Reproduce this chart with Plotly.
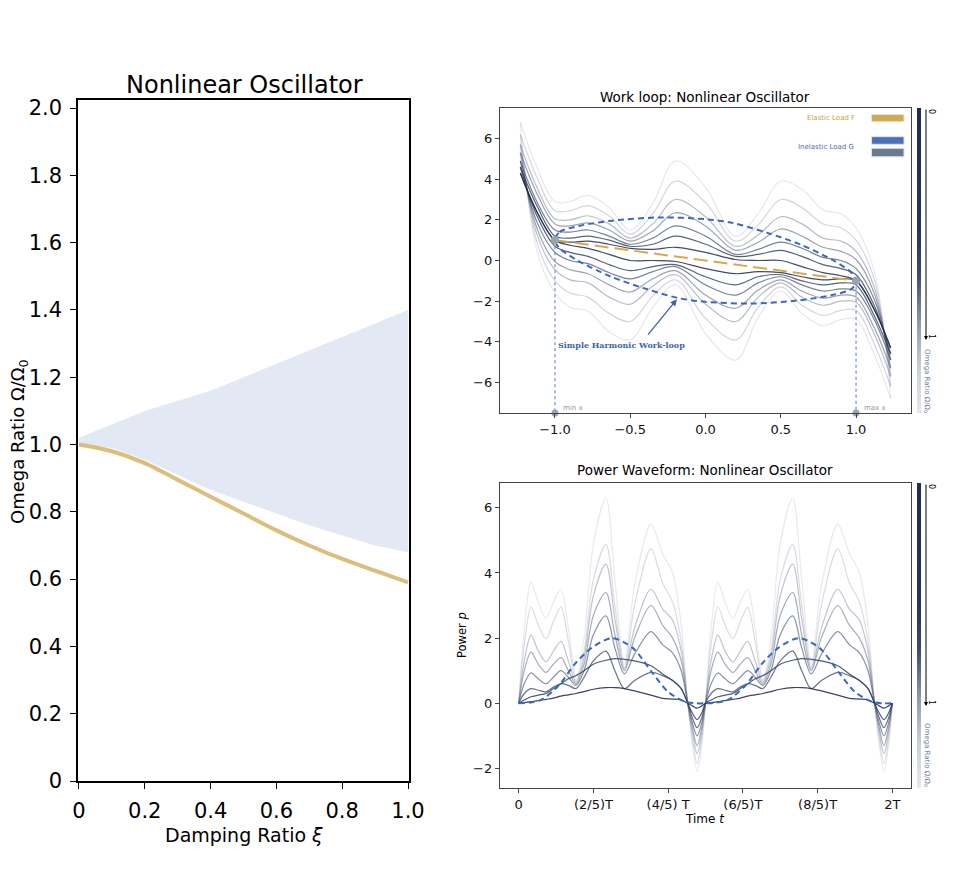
import plotly.graph_objects as go

# ---------------- left panel: stability region ----------------
XI = [0.0, 0.1, 0.2, 0.3, 0.4, 0.5, 0.6, 0.7, 0.8, 0.9, 1.0]
WEDGE_UP = [1.02, 1.06, 1.10, 1.13, 1.16, 1.20, 1.24, 1.28, 1.32, 1.36, 1.40]
WEDGE_LOW = [1.0, 0.99, 0.955, 0.91, 0.865, 0.83, 0.795, 0.76, 0.73, 0.70, 0.68]
GOLD_CURVE = [1.0, 0.98, 0.945, 0.895, 0.845, 0.795, 0.745, 0.70, 0.66, 0.625, 0.59]

# ---------------- work loop ----------------
XW = [-1.23, -1.12, -1.0, -0.9, -0.78, -0.64, -0.5, -0.35, -0.2, 0.0,
      0.2, 0.35, 0.5, 0.64, 0.78, 0.9, 1.0, 1.12, 1.23]
UPPER = [
    [4.3, 2.4, 1.0, 0.9, 0.95, 0.8, 0.6, 0.55, 0.65, 0.4, 0.05, 0.0, 0.0, -0.3, -0.6, -0.75, -1.0, -2.4, -4.3],
    [4.6, 2.7, 1.2, 1.1, 1.2, 1.0, 0.7, 0.8, 1.2, 0.8, 0.2, 0.3, 0.5, 0.2, -0.2, -0.4, -0.7, -2.2, -4.6],
    [4.9, 2.9, 1.5, 1.4, 1.5, 1.2, 0.8, 1.1, 1.7, 1.2, 0.3, 0.55, 0.9, 0.6, 0.15, 0.0, -0.4, -1.9, -4.9],
    [5.3, 3.3, 1.8, 1.7, 1.85, 1.5, 0.95, 1.45, 2.35, 1.7, 0.5, 0.9, 1.55, 1.2, 0.65, 0.45, 0.05, -1.6, -5.3],
    [5.7, 3.6, 2.05, 2.0, 2.2, 1.8, 1.1, 1.8, 3.0, 2.15, 0.7, 1.25, 2.15, 1.8, 1.1, 0.95, 0.45, -1.3, -5.7],
    [6.2, 4.1, 2.45, 2.45, 2.7, 2.2, 1.3, 2.3, 3.9, 2.85, 0.95, 1.75, 3.0, 2.6, 1.8, 1.6, 1.0, -0.9, -6.2],
    [6.8, 4.6, 2.9, 2.9, 3.2, 2.6, 1.5, 2.8, 4.9, 3.6, 1.2, 2.3, 3.9, 3.5, 2.5, 2.3, 1.6, -0.5, -6.8],
]
LOWER = [
    [4.3, 2.4, 1.0, 0.75, 0.6, 0.3, 0.0, 0.0, -0.05, -0.4, -0.65, -0.55, -0.6, -0.8, -0.95, -0.9, -1.0, -2.4, -4.3],
    [4.6, 2.2, 0.7, 0.4, 0.2, -0.2, -0.5, -0.3, -0.2, -0.8, -1.2, -0.8, -0.7, -1.0, -1.2, -1.1, -1.2, -2.7, -4.6],
    [4.9, 1.9, 0.4, 0.0, -0.15, -0.6, -0.9, -0.55, -0.3, -1.2, -1.7, -1.1, -0.8, -1.2, -1.5, -1.4, -1.5, -2.9, -4.9],
    [5.3, 1.6, -0.05, -0.45, -0.65, -1.2, -1.55, -0.9, -0.5, -1.7, -2.35, -1.45, -0.95, -1.5, -1.85, -1.7, -1.8, -3.3, -5.3],
    [5.7, 1.3, -0.45, -0.95, -1.1, -1.8, -2.15, -1.25, -0.7, -2.15, -3.0, -1.8, -1.1, -1.8, -2.2, -2.0, -2.05, -3.6, -5.7],
    [6.2, 0.9, -1.0, -1.6, -1.8, -2.6, -3.0, -1.75, -0.95, -2.85, -3.9, -2.3, -1.3, -2.2, -2.7, -2.45, -2.45, -4.1, -6.2],
    [6.8, 0.5, -1.6, -2.3, -2.5, -3.5, -3.9, -2.3, -1.2, -3.6, -4.9, -2.8, -1.5, -2.6, -3.2, -2.9, -2.9, -4.6, -6.8],
]
WL_COLORS = ["rgba(30,45,75,0.85)", "rgba(45,60,90,0.8)", "rgba(65,80,105,0.7)",
             "rgba(90,100,125,0.6)", "rgba(115,124,145,0.5)", "rgba(145,152,170,0.4)",
             "rgba(180,185,198,0.32)"]

# simple harmonic loop (upper arc left->right, lower arc right->left)
SH_X = [-1.0, -0.97, -0.84, -0.62, -0.29, 0.0, 0.18, 0.41, 0.63, 0.85, 0.97, 1.0,
        0.97, 0.84, 0.62, 0.29, 0.0, -0.18, -0.41, -0.63, -0.85, -0.97, -1.0]
SH_Y = [1.0, 1.4, 1.7, 1.96, 2.12, 2.03, 1.85, 1.36, 0.79, 0.0, -0.6, -1.0,
        -1.4, -1.7, -1.96, -2.12, -2.03, -1.85, -1.36, -0.79, 0.0, 0.6, 1.0]
ELASTIC_X = [-1.0, 1.0]
ELASTIC_Y = [1.0, -1.0]

# ---------------- power waveform (one period, repeats) ----------------
T_ONE = [0, 0.03, 0.066, 0.105, 0.146, 0.186, 0.226, 0.266, 0.307, 0.35, 0.4, 0.467,
         0.515, 0.566, 0.62, 0.708, 0.77, 0.824, 0.87, 0.905, 0.93, 0.955, 0.98, 1.0]
POWER = [
    [0, 0.02, 0.05, 0.08, 0.12, 0.16, 0.22, 0.26, 0.3, 0.36, 0.43, 0.48, 0.48, 0.45, 0.38, 0.25, 0.15, 0.13, 0.1, 0.0, -0.08, -0.15, -0.08, 0],
    [0, 0.1, 0.2, 0.25, 0.3, 0.45, 0.6, 0.75, 0.85, 1.0, 1.2, 1.32, 1.37, 1.35, 1.3, 1.15, 0.9, 0.7, 0.45, 0.0, -0.3, -0.5, -0.3, 0],
    [0, 0.3, 0.45, 0.4, 0.35, 0.5, 0.6, 0.55, 0.45, 0.8, 1.3, 1.6, 1.0, 0.45, 0.7, 0.95, 0.85, 0.7, 0.45, 0.0, -0.45, -0.75, -0.45, 0],
    [0, 0.6, 0.93, 0.75, 0.6, 0.8, 1.0, 0.8, 0.55, 1.0, 2.1, 2.68, 1.7, 0.9, 1.5, 2.2, 1.8, 1.55, 1.0, 0.0, -0.6, -1.0, -0.6, 0],
    [0, 1.0, 1.57, 1.2, 0.95, 1.2, 1.4, 1.0, 0.6, 1.2, 2.7, 3.4, 2.1, 1.0, 2.0, 3.0, 2.4, 2.0, 1.3, 0.0, -0.75, -1.3, -0.75, 0],
    [0, 1.3, 2.09, 1.6, 1.27, 1.6, 1.9, 1.3, 0.65, 1.4, 3.3, 4.27, 2.6, 1.05, 2.3, 3.5, 2.9, 2.55, 1.6, 0.0, -0.9, -1.55, -0.9, 0],
    [0, 1.8, 2.95, 2.4, 1.98, 2.5, 2.95, 1.9, 0.7, 1.6, 3.8, 4.87, 3.0, 1.1, 3.0, 4.74, 3.7, 3.1, 1.9, 0.0, -1.1, -1.85, -1.1, 0],
    [0, 2.3, 3.72, 3.1, 2.6, 3.1, 3.5, 2.3, 0.8, 2.0, 4.9, 6.3, 3.8, 1.2, 3.6, 5.5, 4.6, 4.0, 2.4, 0.0, -1.3, -2.1, -1.3, 0],
]
P_COLORS = ["rgba(35,50,80,0.9)", "rgba(50,65,95,0.85)", "rgba(65,80,108,0.8)",
            "rgba(85,98,125,0.7)", "rgba(105,117,140,0.6)", "rgba(130,140,160,0.5)",
            "rgba(160,168,185,0.4)", "rgba(190,196,208,0.35)"]
SH_T = [0, 0.06, 0.125, 0.215, 0.3, 0.39, 0.5, 0.61, 0.72, 0.8, 0.89, 0.95, 1.0]
SH_P = [0, 0.02, 0.12, 0.55, 1.2, 1.7, 2.0, 1.7, 0.9, 0.35, 0.05, 0, 0]

CB_SCALE = [[0, "#e6e8ee"], [0.15, "#c9ced8"], [0.3, "#8e97a8"],
            [0.45, "#3b4c6c"], [0.6, "#24375a"], [1, "#1d2f50"]]

FONT = "DejaVu Sans"
BLUE = "#3b67bd"
W, H, OFF = 964, 877, 8   # the page puts the figure 8px in from the top-left corner


def px(x):
    return (x - OFF) / W


def py(y):
    return 1 - (y - OFF) / H


fig = go.Figure()

# left panel
fig.add_trace(go.Scatter(x=XI + XI[::-1], y=WEDGE_UP + WEDGE_LOW[::-1], fill="toself",
                         fillcolor="#e3e9f4", line=dict(width=0), mode="lines",
                         xaxis="x", yaxis="y", hoverinfo="skip"))
fig.add_trace(go.Scatter(x=XI, y=GOLD_CURVE, mode="lines", line=dict(color="#dcbe7c", width=4, shape="spline"),
                         xaxis="x", yaxis="y"))

# work loop curves, lightest first
for k in range(len(UPPER) - 1, -1, -1):
    for ys in (UPPER[k], LOWER[k]):
        fig.add_trace(go.Scatter(x=XW, y=ys, mode="lines", xaxis="x2", yaxis="y2",
                                 line=dict(color=WL_COLORS[k], width=1.2, shape="spline", smoothing=1.0)))

fig.add_trace(go.Scatter(x=[-1, -1], y=[1, -7.5], mode="lines", xaxis="x2", yaxis="y2",
                         line=dict(color="#6f8fcc", width=1.2, dash="dot")))
fig.add_trace(go.Scatter(x=[1, 1], y=[-1, -7.5], mode="lines", xaxis="x2", yaxis="y2",
                         line=dict(color="#6f8fcc", width=1.2, dash="dot")))
fig.add_trace(go.Scatter(x=ELASTIC_X, y=ELASTIC_Y, mode="lines", xaxis="x2", yaxis="y2",
                         line=dict(color="#d6aa4c", width=2, dash="14px,6px")))
fig.add_trace(go.Scatter(x=SH_X, y=SH_Y, mode="lines", xaxis="x2", yaxis="y2",
                         line=dict(color=BLUE, width=2, dash="6px,4px", shape="spline", smoothing=0.8)))
fig.add_trace(go.Scatter(x=ELASTIC_X, y=ELASTIC_Y, mode="markers", xaxis="x2", yaxis="y2",
                         marker=dict(color="#9ba3b0", size=8)))
fig.add_trace(go.Scatter(x=[-1, 1], y=[-7.5, -7.5], mode="markers", xaxis="x2", yaxis="y2",
                         cliponaxis=False, marker=dict(color="#9aa3b5", size=7)))

# power waveform curves
t_full = T_ONE + [t + 1 for t in T_ONE[1:]]
for k in range(len(POWER) - 1, -1, -1):
    fig.add_trace(go.Scatter(x=t_full, y=POWER[k] + POWER[k][1:], mode="lines", xaxis="x3", yaxis="y3",
                             line=dict(color=P_COLORS[k], width=1.2, shape="spline", smoothing=0.9)))
fig.add_trace(go.Scatter(x=SH_T + [t + 1 for t in SH_T[1:]], y=SH_P + SH_P[1:], mode="lines",
                         xaxis="x3", yaxis="y3",
                         line=dict(color=BLUE, width=2, dash="6px,4px", shape="spline", smoothing=0.8)))

# colour strips next to the right panels
for yc, xa, ya in ((py(260.5), "x2", "y2"), (py(635.5), "x3", "y3")):
    fig.add_trace(go.Scatter(x=[None], y=[None], mode="markers", xaxis=xa, yaxis=ya, hoverinfo="skip",
                             marker=dict(color=[0.5], cmin=0, cmax=1, colorscale=CB_SCALE, showscale=True,
                                         colorbar=dict(thickness=4, len=305 / H, x=px(917), xanchor="left",
                                                       xpad=0, ypad=0, y=yc, yanchor="middle",
                                                       outlinewidth=0, showticklabels=False, ticks=""))))

left_ax = dict(showline=True, linecolor="black", linewidth=1.5, mirror=True, ticks="outside",
               ticklen=6, tickwidth=1.3, tickcolor="black", showgrid=False, zeroline=False,
               ticklabelstandoff=4, tickfont=dict(family=FONT, size=21, color="black"))
right_ax = dict(showline=True, linecolor="#444444", linewidth=1.3, mirror=True, ticks="outside",
                ticklen=4, tickwidth=1, tickcolor="#444444", showgrid=False, zeroline=False,
                tickfont=dict(family=FONT, size=13, color="#111111"))

fig.update_layout(
    width=W, height=H, margin=dict(l=0, r=0, t=0, b=0, autoexpand=False),
    paper_bgcolor="white", plot_bgcolor="white", showlegend=False,
    font=dict(family=FONT, color="black"),
    xaxis=dict(left_ax, domain=[px(78), px(409)], range=[-0.003, 1.003], anchor="y",
               tickvals=[0, 0.2, 0.4, 0.6, 0.8, 1.0], ticktext=["0", "0.2", "0.4", "0.6", "0.8", "1.0"]),
    yaxis=dict(left_ax, domain=[py(781), py(100)], range=[0, 2.024], anchor="x",
               tickvals=[0, 0.2, 0.4, 0.6, 0.8, 1.0, 1.2, 1.4, 1.6, 1.8, 2.0],
               ticktext=["0", "0.2", "0.4", "0.6", "0.8", "1.0", "1.2", "1.4", "1.6", "1.8", "2.0"]),
    xaxis2=dict(right_ax, domain=[px(500), px(911)], range=[-1.365, 1.365], anchor="y2",
                tickvals=[-1, -0.5, 0, 0.5, 1], ticktext=["−1.0", "−0.5", "0.0", "0.5", "1.0"]),
    yaxis2=dict(right_ax, domain=[py(413), py(108)], range=[-7.5, 7.5], anchor="x2",
                tickvals=[-6, -4, -2, 0, 2, 4, 6]),
    xaxis3=dict(right_ax, domain=[px(500), px(911)], range=[-0.1, 2.1], anchor="y3",
                tickvals=[0, 0.4, 0.8, 1.2, 1.6, 2.0],
                ticktext=["0", "(2/5)T", "(4/5) T", "(6/5)T", "(8/5)T", "2T"]),
    yaxis3=dict(right_ax, domain=[py(788), py(483)], range=[-2.6, 6.76], anchor="x3",
                tickvals=[-2, 0, 2, 4, 6]),
)


def label(text, x, y, size, angle=0, color="black", family=FONT, xref="paper", yref="paper", xanchor="center"):
    return dict(text=text, x=x, y=y, xref=xref, yref=yref, xanchor=xanchor, yanchor="middle",
                showarrow=False, textangle=angle, font=dict(size=size, color=color, family=family))


ann = [
    label("Nonlinear Oscillator", px(244), py(85), 24),
    label("Damping Ratio <i>ξ</i>", px(244), py(835), 19),
    label("Omega Ratio Ω/Ω<sub>0</sub>", px(19), py(442), 18, angle=-90),
    label("Work loop: Nonlinear Oscillator", px(705), py(97), 13.5),
    label("Power Waveform: Nonlinear Oscillator", px(705), py(470), 13.5),
    label("Time <i>t</i>", px(705), py(819), 12),
    label("Power <i>p</i>", px(462), py(635), 11.5, angle=-90),
    # work loop legend
    label("Elastic Load F", 0.868, 0.966, 7, color="#c9a040", xref="x2 domain", yref="y2 domain", xanchor="right"),
    label("Inelastic Load G", 0.866, 0.873, 7, color="#4a6db0", xref="x2 domain", yref="y2 domain", xanchor="right"),
    # loop annotation
    label("<b>Simple Harmonic Work-loop</b>", -0.555, -4.17, 8, color="#3d62ad", family="DejaVu Serif",
          xref="x2", yref="y2"),
    dict(text="", x=-0.19, y=-1.91, ax=-0.39, ay=-3.72, xref="x2", yref="y2", axref="x2", ayref="y2",
         showarrow=True, arrowhead=2, arrowsize=1, arrowwidth=1.3, arrowcolor="#3d62ad"),
    label("min x", -0.96, -7.25, 7, color="#8f98a8", xref="x2", yref="y2", xanchor="left"),
    label("max x", 1.04, -7.25, 7, color="#8f98a8", xref="x2", yref="y2", xanchor="left"),
]
# colour strip arrows and labels (paper coordinates, arrow offsets in pixels)
for top, tip, y_om in ((108, 340, 381), (483, 706, 755)):
    ann.append(dict(text="", x=px(926), y=py(tip), xref="paper", yref="paper", ax=0, ay=top - tip,
                    showarrow=True, arrowhead=2, arrowsize=0.8, arrowwidth=1, arrowcolor="black"))
    ann.append(label("0", px(932), py(top + 3), 8, angle=90))
    ann.append(label("1", px(932), py(tip - 4), 8, angle=90))
    ann.append(label("Omega Ratio Ω/Ω<sub>0</sub>", px(927), py(y_om), 7, angle=90, color="#6b7a99"))
fig.update_layout(annotations=ann)

# legend swatches in the work loop panel
for y0, y1, col in ((0.955, 0.979, "#d4aa50"), (0.881, 0.906, "#4a70b8"), (0.840, 0.868, "#6b7a90")):
    fig.add_shape(type="rect", xref="x2 domain", yref="y2 domain", x0=0.904, x1=0.983, y0=y0, y1=y1,
                  fillcolor=col, line=dict(color="#dfe4ee", width=1))

fig.write_html("out.html")
